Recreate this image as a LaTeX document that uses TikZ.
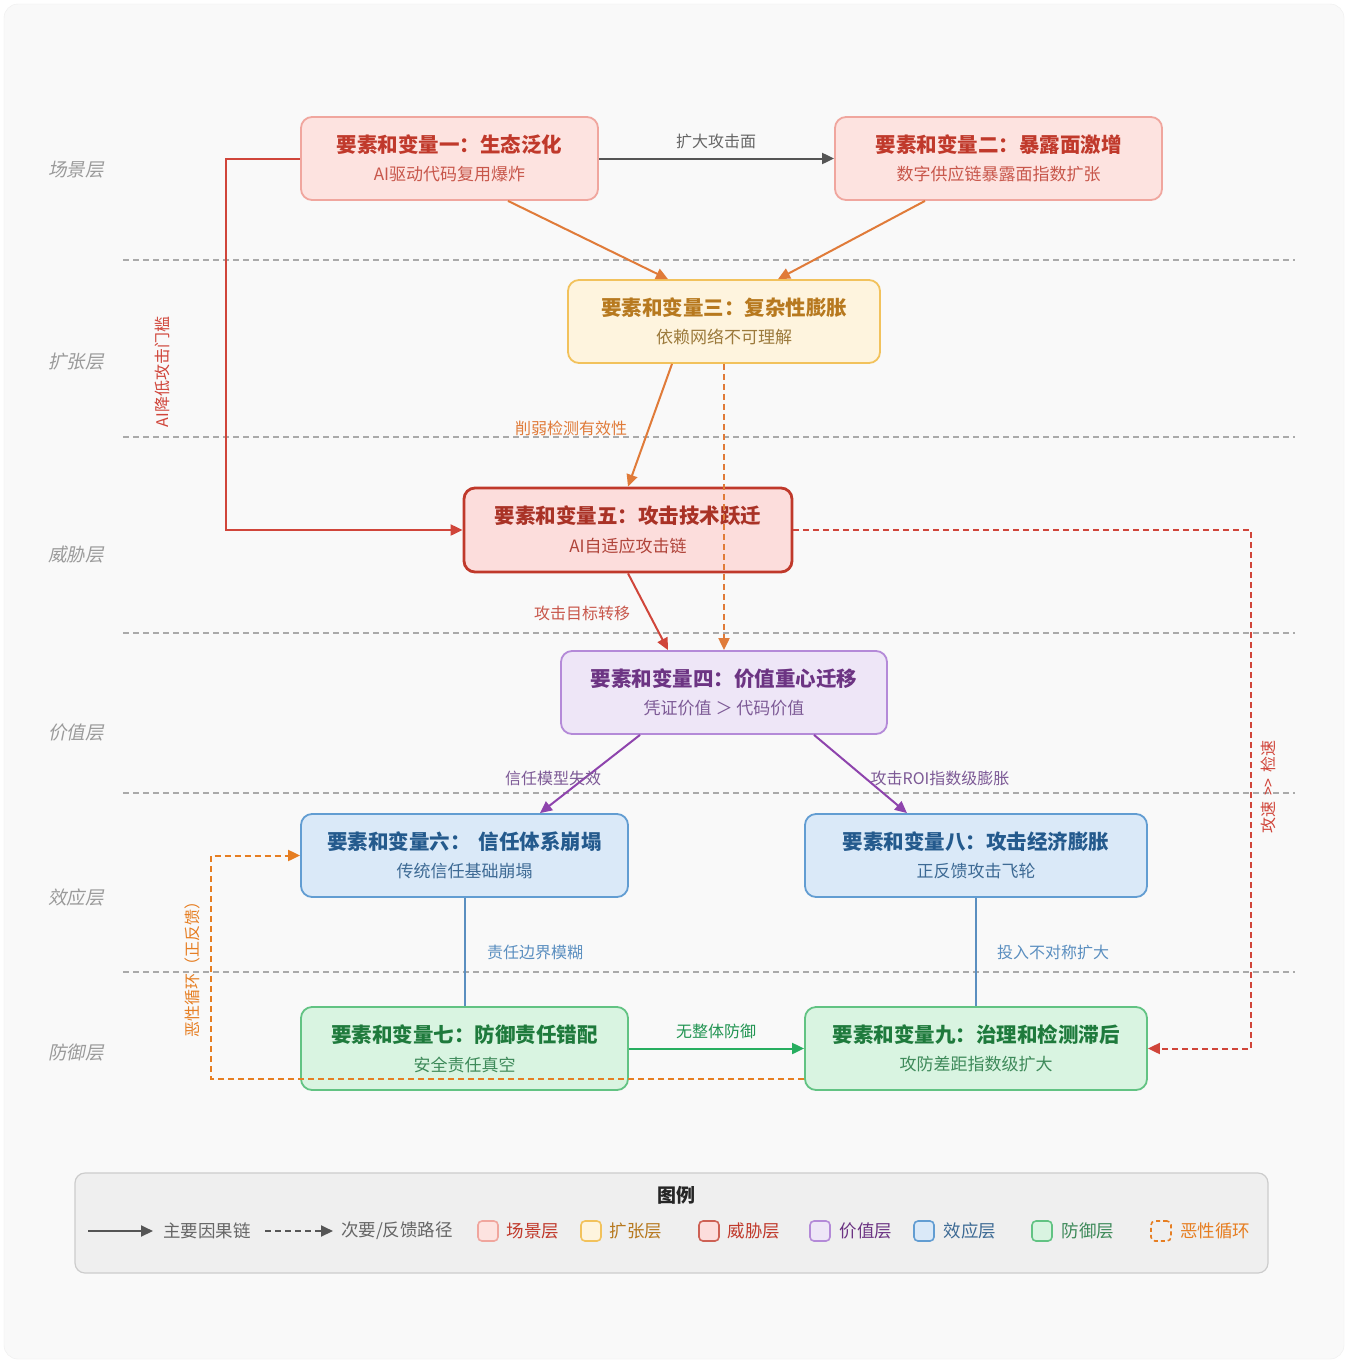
\documentclass[tikz,border=0pt]{standalone}
\usepackage{fontspec}
\setmainfont{Noto Sans CJK SC}
\newfontfamily\layerfont[FakeSlant=0.2]{Noto Sans CJK SC}
\usetikzlibrary{arrows.meta,calc}

% colours
\definecolor{bgGray}{HTML}{F9F9F9}
\definecolor{bgLine}{HTML}{EEEEEE}
\definecolor{sepGray}{HTML}{AAAAAA}
\definecolor{layerGray}{HTML}{9A9A9A}
\definecolor{sceneFill}{HTML}{FDE3E0}
\definecolor{sceneLine}{HTML}{F0A69E}
\definecolor{sceneTitle}{HTML}{C0392B}
\definecolor{sceneSub}{HTML}{C8574B}
\definecolor{expFill}{HTML}{FEF4DE}
\definecolor{expLine}{HTML}{F2C25C}
\definecolor{expTitle}{HTML}{B7791F}
\definecolor{expSub}{HTML}{9C7A3C}
\definecolor{thrFill}{HTML}{FCDDDC}
\definecolor{thrLine}{HTML}{C0392B}
\definecolor{thrTitle}{HTML}{A93226}
\definecolor{thrSub}{HTML}{B0443A}
\definecolor{valFill}{HTML}{EEE6F7}
\definecolor{valLine}{HTML}{B48AD8}
\definecolor{valTitle}{HTML}{6C3483}
\definecolor{valSub}{HTML}{7D5A96}
\definecolor{effFill}{HTML}{DAE9F8}
\definecolor{effLine}{HTML}{629DD2}
\definecolor{effTitle}{HTML}{245A8D}
\definecolor{effSub}{HTML}{3D6A94}
\definecolor{defFill}{HTML}{D9F4E1}
\definecolor{defLine}{HTML}{62C383}
\definecolor{defTitle}{HTML}{1E7A3C}
\definecolor{defSub}{HTML}{3E8A5A}
\definecolor{mainGray}{HTML}{555555}
\definecolor{lblGray}{HTML}{666666}
\definecolor{orgLine}{HTML}{E07B39}
\definecolor{orgTip}{HTML}{D35400}
\definecolor{redLine}{HTML}{D0453A}
\definecolor{purLine}{HTML}{8E44AD}
\definecolor{bluLine}{HTML}{5B8FC0}
\definecolor{grnLine}{HTML}{27AE60}
\definecolor{loopOrg}{HTML}{E67E22}
\definecolor{legFill}{HTML}{EFEFEF}
\definecolor{legLine}{HTML}{CCCCCC}

% two-line box text
\newcommand{\boxtext}[4]{{\fontsize{20.5}{24}\selectfont\bfseries\color{#1}#2}\\[11pt]{\fontsize{17}{20}\selectfont\color{#3}#4}}

\tikzset{
  box/.style={rectangle, rounded corners=11pt, line width=1.8pt, align=center, inner sep=0pt, minimum height=83pt},
  sceneBox/.style={box, fill=sceneFill, draw=sceneLine},
  expBox/.style={box, fill=expFill, draw=expLine},
  thrBox/.style={box, fill=thrFill, draw=thrLine, line width=2.8pt},
  valBox/.style={box, fill=valFill, draw=valLine},
  effBox/.style={box, fill=effFill, draw=effLine},
  defBox/.style={box, fill=defFill, draw=defLine},
  sepLine/.style={sepGray, line width=1.3pt, dash pattern=on 6pt off 4pt},
  layerLbl/.style={text=layerGray, font=\layerfont\fontsize{18.5}{20}\selectfont},
  edgeLbl/.style={font=\fontsize{16}{18}\selectfont, inner sep=1pt},
  tip/.style={-{Triangle[length=12pt,width=11pt]}},
  flow/.style={tip, line width=2pt},
  backflow/.style={tip, line width=2pt, dash pattern=on 6pt off 4pt},
  legSq/.style={rectangle, rounded corners=4pt, minimum size=20pt, line width=1.6pt, inner sep=0pt},
  legTx/.style={font=\fontsize{17.5}{20}\selectfont, inner sep=0pt}
}

\begin{document}
\begin{tikzpicture}[x=1pt,y=-1pt]
    \useasboundingbox (0,0) rectangle (1348,1363);
    % Draw background
    \fill[white] (0,0) rectangle (1348,1363);
    \draw[fill=bgGray, draw=bgLine, rounded corners=14pt] (4,4) rectangle (1344,1359);

    % Draw layer separators
    \draw[sepLine] (123,260) -- (1295,260);
    \draw[sepLine] (123,437) -- (1295,437);
    \draw[sepLine] (123,633) -- (1295,633);
    \draw[sepLine] (123,793) -- (1295,793);
    \draw[sepLine] (123,972) -- (1295,972);

    % Label layers
    \node[layerLbl] (lyScene) at (76,170) {场景层};
    \node[layerLbl] (lyExp) at (76,362) {扩张层};
    \node[layerLbl] (lyThr) at (76,555) {威胁层};
    \node[layerLbl] (lyVal) at (76,733) {价值层};
    \node[layerLbl] (lyEff) at (76,897) {效应层};
    \node[layerLbl] (lyDef) at (76,1053) {防御层};

    % Draw factor boxes
    \node[sceneBox, minimum width=297pt] (eco) at (449.5,158.5) {\boxtext{sceneTitle}{要素和变量一：生态泛化}{sceneSub}{AI驱动代码复用爆炸}};
    \node[sceneBox, minimum width=327pt] (expo) at (998.5,158.5) {\boxtext{sceneTitle}{要素和变量二：暴露面激增}{sceneSub}{数字供应链暴露面指数扩张}};
    \node[expBox, minimum width=312pt] (cplx) at (724,321.5) {\boxtext{expTitle}{要素和变量三：复杂性膨胀}{expSub}{依赖网络不可理解}};
    \node[thrBox, minimum width=328pt, minimum height=84pt] (tech) at (628,530) {\boxtext{thrTitle}{要素和变量五：攻击技术跃迁}{thrSub}{AI自适应攻击链}};
    \node[valBox, minimum width=326pt] (value) at (724,692.5) {\boxtext{valTitle}{要素和变量四：价值重心迁移}{valSub}{凭证价值 ＞ 代码价值}};
    \node[effBox, minimum width=327pt] (trust) at (464.5,855.5) {\boxtext{effTitle}{要素和变量六：\hspace{8pt}信任体系崩塌}{effSub}{传统信任基础崩塌}};
    \node[effBox, minimum width=342pt] (econ) at (976,855.5) {\boxtext{effTitle}{要素和变量八：攻击经济膨胀}{effSub}{正反馈攻击飞轮}};
    \node[defBox, minimum width=327pt] (duty) at (464.5,1048.5) {\boxtext{defTitle}{要素和变量七：防御责任错配}{defSub}{安全责任真空}};
    \node[defBox, minimum width=342pt] (gov) at (976,1048.5) {\boxtext{defTitle}{要素和变量九：治理和检测滞后}{defSub}{攻防差距指数级扩大}};

    % Draw main causal links
    \draw[flow, mainGray] (eco.east) -- (expo.west);
    \draw[flow, orgLine] ($(eco.south)+(58.5,0)$) -- ($(cplx.north)+(-56,0)$);
    \draw[flow, orgLine] ($(expo.south)+(-73.5,0)$) -- ($(cplx.north)+(54,0)$);
    \draw[flow, orgLine] ($(cplx.south)+(-52,0)$) -- (tech.north);
    \draw[flow, redLine] (eco.west) -- ++(-74,0) |- (tech.west);
    \draw[flow, redLine] (tech.south) -- ($(value.north)+(-56,0)$);
    \draw[flow, purLine] ($(value.south)+(-84,0)$) -- ($(trust.north)+(75.5,0)$);
    \draw[flow, purLine] ($(value.south)+(90,0)$) -- ($(econ.north)+(-69,0)$);
    \draw[bluLine, line width=2pt] (trust.south) -- (duty.north);
    \draw[bluLine, line width=2pt] (econ.south) -- (gov.north);
    \draw[flow, grnLine] (duty.east) -- (gov.west);

    % Draw secondary and feedback paths
    \draw[backflow, orgLine] (cplx.south) -- (value.north);
    \draw[backflow, redLine] (tech.east) -- ++(458,0) |- (gov.east);
    \draw[backflow, loopOrg] ($(gov.south west)+(0,-12)$) -- ++(-593,0) |- (trust.west);

    % Label links
    \node[edgeLbl, text=lblGray] (lbSurf) at (716,141) {扩大攻击面};
    \node[edgeLbl, text=orgLine] (lbDetect) at (571,428) {削弱检测有效性};
    \node[edgeLbl, text=sceneSub] (lbTarget) at (582,613) {攻击目标转移};
    \node[edgeLbl, text=valSub] (lbModel) at (553,778) {信任模型失效};
    \node[edgeLbl, text=valSub] (lbRoi) at (940,778) {攻击ROI指数级膨胀};
    \node[edgeLbl, text=bluLine] (lbBound) at (535,952) {责任边界模糊};
    \node[edgeLbl, text=bluLine] (lbInvest) at (1053,952) {投入不对称扩大};
    \node[edgeLbl, text=grnLine!85!black] (lbWhole) at (716,1031) {无整体防御};
    \node[edgeLbl, text=redLine, rotate=90] (lbAi) at (162,372) {AI降低攻击门槛};
    \node[edgeLbl, text=redLine, rotate=90] (lbSpeed) at (1268,787) {攻速\hspace{6pt}{>}{>}\hspace{6pt}检速};
    \node[edgeLbl, text=loopOrg, rotate=90] (lbLoop) at (192,965) {恶性循环（正反馈）};

    % Draw legend
    \node[rectangle, rounded corners=10pt, fill=legFill, draw=legLine, line width=1.2pt, minimum width=1193pt, minimum height=100pt] (legend) at (671.5,1223) {};
    \node[font=\fontsize{19}{21}\selectfont\bfseries, text=black!85] (lgTitle) at (676,1195) {图例};
    \coordinate (lgA1) at (88,1231);
    \coordinate (lgA2) at (153,1231);
    \coordinate (lgB1) at (265,1231);
    \coordinate (lgB2) at (333,1231);
    \draw[flow, mainGray] (lgA1) -- (lgA2);
    \draw[backflow, mainGray] (lgB1) -- (lgB2);
    \node[legTx, text=lblGray] (lgTxA) at (207,1231) {主要因果链};
    \node[legTx, text=lblGray] (lgTxB) at (397,1231) {次要/反馈路径};
    \node[legSq, fill=sceneFill, draw=sceneLine] (lgSq1) at (488,1231) {};
    \node[legTx, text=sceneTitle] (lgTx1) at (533,1231) {场景层};
    \node[legSq, fill=expFill, draw=expLine] (lgSq2) at (591,1231) {};
    \node[legTx, text=expTitle] (lgTx2) at (636,1231) {扩张层};
    \node[legSq, fill=thrFill, draw=thrLine!80] (lgSq3) at (709,1231) {};
    \node[legTx, text=thrLine] (lgTx3) at (754,1231) {威胁层};
    \node[legSq, fill=valFill, draw=valLine] (lgSq4) at (820,1231) {};
    \node[legTx, text=valTitle] (lgTx4) at (866,1231) {价值层};
    \node[legSq, fill=effFill, draw=effLine] (lgSq5) at (924,1231) {};
    \node[legTx, text=effSub] (lgTx5) at (970,1231) {效应层};
    \node[legSq, fill=defFill, draw=defLine] (lgSq6) at (1042,1231) {};
    \node[legTx, text=defSub] (lgTx6) at (1088,1231) {防御层};
    \node[legSq, draw=loopOrg, dash pattern=on 4pt off 3pt] (lgSq7) at (1161,1231) {};
    \node[legTx, text=loopOrg] (lgTx7) at (1215,1231) {恶性循环};
\end{tikzpicture}
\end{document}
